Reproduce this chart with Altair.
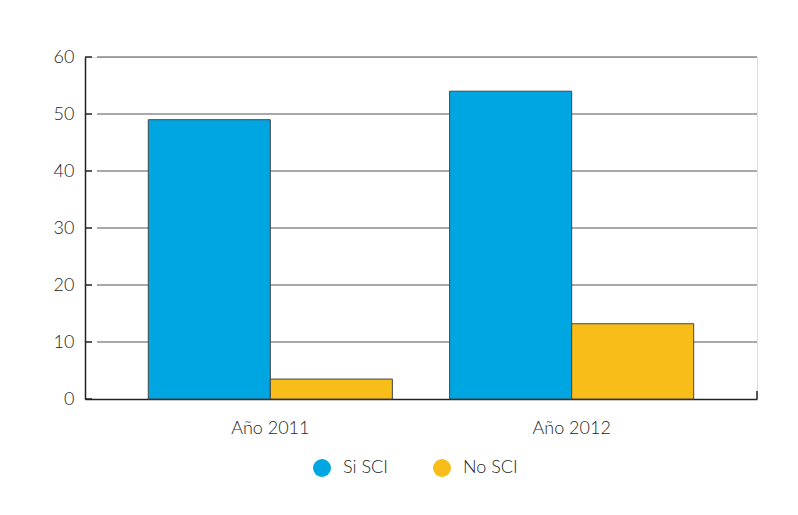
import altair as alt
import pandas as pd

categories = ["Año 2011", "Año 2012"]
series = ["Si SCI", "No SCI"]
si_sci = [49, 54]
no_sci = [3.5, 13.2]
colors = ["#00A6E2", "#F9BD1A"]
grid_values = [10, 20, 30, 40, 50, 60]
tick_values = [0, 10, 20, 30, 40, 50, 60]

rows = []
for i, c in enumerate(categories):
    rows.append({"cat": c, "serie": series[0], "val": si_sci[i]})
    rows.append({"cat": c, "serie": series[1], "val": no_sci[i]})
df = pd.DataFrame(rows)

grid_df = pd.DataFrame({"val": grid_values})
tick_df = pd.DataFrame({"val": tick_values})

W, H = 672, 342
FONT = "Lato"
FW = 300
FS = 18
TC = "#262626"

yscale = alt.Scale(domain=[0, 60], nice=False)
yaxis = alt.Axis(values=tick_values, ticks=False, grid=False, labelPadding=11,
                 labelFontSize=FS, labelColor=TC, labelFont=FONT, labelFontWeight=FW,
                 domainColor="#222222", domainWidth=1.5, title=None)

grid = alt.Chart(grid_df).mark_rule(color="#555555", strokeWidth=1.2).encode(
    y=alt.Y("val:Q", scale=yscale, axis=yaxis, title=None),
    x=alt.value(12),
    x2=alt.value(W),
)

bars = alt.Chart(df).mark_bar(stroke="#444444", strokeWidth=1).encode(
    x=alt.X("cat:N", sort=categories, title=None,
            scale=alt.Scale(paddingInner=0.19, paddingOuter=0.21),
            axis=alt.Axis(labelAngle=0, ticks=False, labelPadding=20,
                          labelFontSize=FS, labelColor=TC, labelFont=FONT,
                          labelFontWeight=FW,
                          domainColor="#222222", domainWidth=1.5)),
    xOffset=alt.XOffset("serie:N", sort=series,
                        scale=alt.Scale(paddingInner=0, paddingOuter=0)),
    y=alt.Y("val:Q", scale=yscale, title=None, axis=yaxis),
    color=alt.Color("serie:N", sort=series,
                    scale=alt.Scale(domain=series, range=colors),
                    legend=alt.Legend(title=None, orient="none", direction="horizontal",
                                      legendX=228, legendY=402, symbolType="circle",
                                      symbolSize=324, symbolStrokeWidth=0,
                                      labelFontSize=FS, labelColor=TC, labelFont=FONT,
                                      labelFontWeight=FW,
                                      columnPadding=45, symbolOffset=0, labelOffset=12)),
)

ticks = alt.Chart(tick_df).mark_rule(color="#222222", strokeWidth=1.5).encode(
    y=alt.Y("val:Q", scale=yscale, axis=yaxis, title=None),
    x=alt.value(0),
    x2=alt.value(7),
)

end_tick = alt.Chart(pd.DataFrame({"g": [0]})).mark_rule(color="#222222", strokeWidth=1.5).encode(
    x=alt.value(W),
    y=alt.value(H),
    y2=alt.value(H - 8),
)

chart = alt.layer(grid, bars, ticks, end_tick).properties(
    width=W, height=H,
    autosize=alt.AutoSizeParams(type="none"),
    padding={"left": 77, "top": 49, "right": 33, "bottom": 100},
).configure_view(stroke=None).configure(background="white")

chart.save("out.html", embed_options={"renderer": "svg", "actions": False})
